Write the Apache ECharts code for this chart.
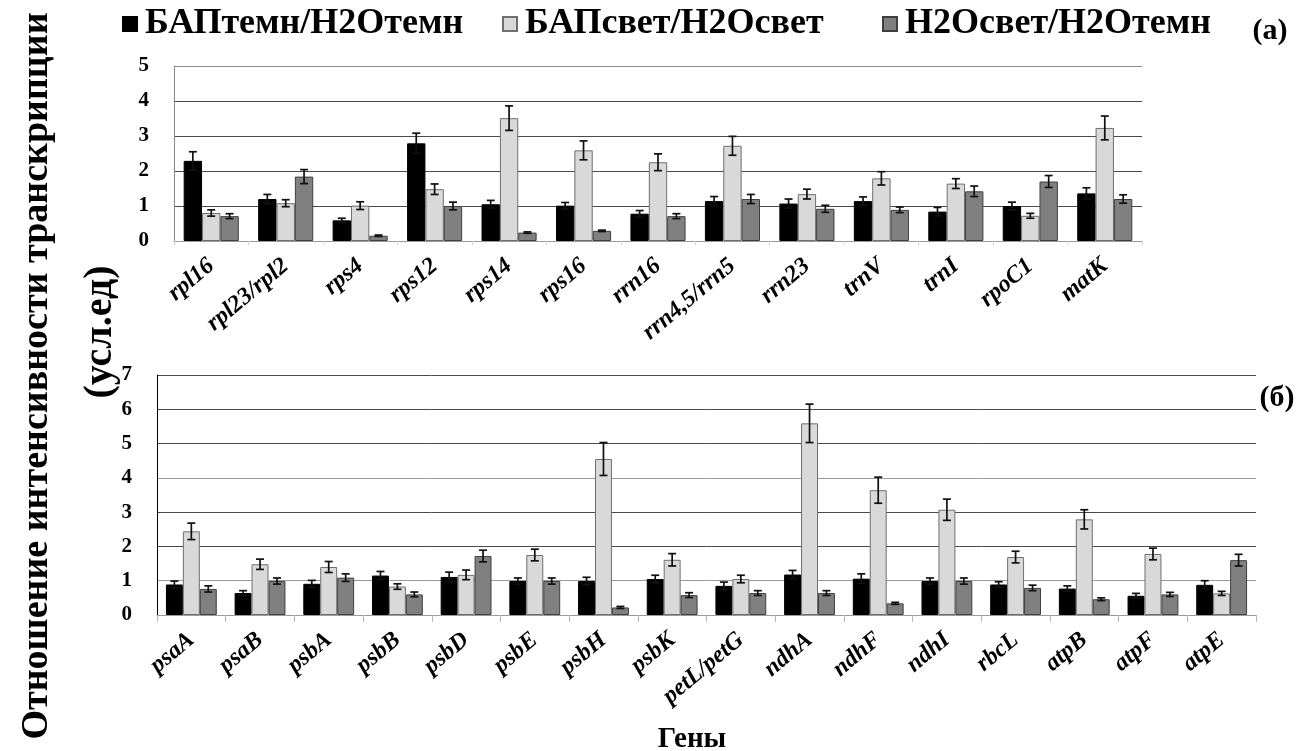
<!DOCTYPE html>
<html>
<head>
<meta charset="utf-8">
<script src="https://cdn.jsdelivr.net/npm/echarts@6/dist/echarts.min.js"></script>
<style>
html,body{margin:0;padding:0;background:#fff;}
#c{width:1301px;height:751px;}
</style>
</head>
<body>
<div id="c"></div>
<script>
// ---------- DATA ----------
const seriesNames = ['БАПтемн/H2Oтемн', 'БАПсвет/H2Oсвет', 'H2Oсвет/H2Oтемн'];

const catsA = ['rpl16','rpl23/rpl2','rps4','rps12','rps14','rps16','rrn16','rrn4,5/rrn5','rrn23','trnV','trnI','rpoC1','matK'];
const darkA  = [2.29, 1.20, 0.59, 2.79, 1.05, 1.01, 0.78, 1.14, 1.07, 1.14, 0.84, 1.00, 1.36];
const errDarkA = [0.26, 0.13, 0.06, 0.29, 0.11, 0.09, 0.09, 0.13, 0.13, 0.12, 0.12, 0.11, 0.16];
const lightA = [0.80, 1.08, 1.01, 1.48, 3.51, 2.59, 2.25, 2.72, 1.34, 1.79, 1.64, 0.72, 3.23];
const errLightA = [0.09, 0.10, 0.11, 0.15, 0.35, 0.27, 0.24, 0.27, 0.14, 0.19, 0.14, 0.07, 0.34];
const grayA  = [0.71, 1.84, 0.15, 1.00, 0.24, 0.29, 0.71, 1.20, 0.92, 0.89, 1.42, 1.70, 1.20];
const errGrayA = [0.07, 0.20, 0.02, 0.11, 0.02, 0.02, 0.07, 0.13, 0.10, 0.08, 0.15, 0.17, 0.12];

const catsB = ['psaA','psaB','psbA','psbB','psbD','psbE','psbH','psbK','petL/petG','ndhA','ndhF','ndhI','rbcL','atpB','atpF','atpE'];
const darkB  = [0.89, 0.64, 0.91, 1.15, 1.11, 0.99, 0.99, 1.05, 0.85, 1.18, 1.06, 0.99, 0.89, 0.77, 0.56, 0.88];
const errDarkB = [0.10, 0.07, 0.10, 0.12, 0.14, 0.09, 0.11, 0.11, 0.11, 0.12, 0.14, 0.09, 0.08, 0.08, 0.07, 0.12];
const lightB = [2.44, 1.48, 1.40, 0.83, 1.17, 1.75, 4.55, 1.61, 1.05, 5.59, 3.64, 3.07, 1.69, 2.79, 1.78, 0.63];
const errLightB = [0.24, 0.15, 0.16, 0.08, 0.14, 0.17, 0.48, 0.18, 0.11, 0.56, 0.38, 0.31, 0.17, 0.28, 0.17, 0.06];
const grayB  = [0.76, 0.99, 1.09, 0.60, 1.72, 0.99, 0.22, 0.58, 0.64, 0.64, 0.34, 0.99, 0.79, 0.46, 0.60, 1.60];
const errGrayB = [0.09, 0.09, 0.11, 0.07, 0.17, 0.09, 0.03, 0.07, 0.07, 0.07, 0.03, 0.09, 0.08, 0.04, 0.06, 0.17];

const yTicksA = {min: 0, max: 5, interval: 1};
const yTicksB = {min: 0, max: 7, interval: 1};

// ---------- STYLE ----------
const FONT = "Liberation Serif, Times New Roman, serif";
const fills = ['#000000', '#d9d9d9', '#808080'];
const borders = ['#000000', '#6f6f6f', '#3f3f3f'];
const CAT_GAP = 0.26;

const chart = echarts.init(document.getElementById('c'), null, {renderer: 'canvas'});

function barSeries(k, vals, gi) {
  return {
    name: seriesNames[k], type: 'bar', xAxisIndex: gi, yAxisIndex: gi,
    data: vals, barGap: '0%', barCategoryGap: (CAT_GAP * 100) + '%',
    itemStyle: {color: fills[k], borderColor: borders[k], borderWidth: 1},
    emphasis: {disabled: true}, z: 2
  };
}
function errSeries(k, vals, errs, gi) {
  return {
    type: 'custom', xAxisIndex: gi, yAxisIndex: gi, z: 5, silent: true,
    data: vals.map((v, i) => [i, v - errs[i], v + errs[i]]),
    encode: {x: 0, y: [1, 2]},
    renderItem: function (params, api) {
      const i = api.value(0);
      const lo = api.coord([i, api.value(1)]);
      const hi = api.coord([i, api.value(2)]);
      const cw = api.size([1, 0])[0];
      const bw = cw * (1 - CAT_GAP) / 3;
      const x = lo[0] + (k - 1) * bw;
      const c = 4;
      const st = {stroke: '#111', lineWidth: 1.7};
      return {type: 'group', children: [
        {type: 'line', shape: {x1: x, y1: lo[1], x2: x, y2: hi[1]}, style: st},
        {type: 'line', shape: {x1: x - c, y1: lo[1], x2: x + c, y2: lo[1]}, style: st},
        {type: 'line', shape: {x1: x - c, y1: hi[1], x2: x + c, y2: hi[1]}, style: st}
      ]};
    }
  };
}

const xLabel = {
  interval: 0, rotate: 40, color: '#000', fontFamily: FONT, fontSize: 24,
  fontWeight: 'bold', fontStyle: 'italic', margin: 22, padding: [37, 0, 0, 0]
};
const yLabel = {color: '#000', fontFamily: FONT, fontSize: 21, fontWeight: 'bold', margin: 25};

function oneLegend(k, left) {
  return {
    data: [seriesNames[k]], left: left, top: 6, padding: 0, itemWidth: 14, itemHeight: 14,
    textStyle: {fontFamily: FONT, fontSize: 36, fontWeight: 'bold', color: '#000', padding: [0, 0, 0, 3]},
    icon: 'rect', selectedMode: false
  };
}

const option = {
  animation: false,
  backgroundColor: '#fff',
  legend: [oneLegend(0, 122), oneLegend(1, 502), oneLegend(2, 882)],
  grid: [
    {left: 174, right: 159, top: 66, height: 175, containLabel: false},
    {left: 157, right: 45, top: 375, height: 240, containLabel: false}
  ],
  xAxis: [
    {type: 'category', gridIndex: 0, data: catsA,
     axisLine: {lineStyle: {color: '#9a9a9a', width: 1}},
     axisTick: {show: true, alignWithLabel: false, length: 4, lineStyle: {color: '#d5d5d5'}},
     axisLabel: xLabel},
    {type: 'category', gridIndex: 1, data: catsB,
     axisLine: {lineStyle: {color: '#9a9a9a', width: 1}},
     axisTick: {show: true, alignWithLabel: false, length: 7, lineStyle: {color: '#b5b5b5'}},
     axisLabel: xLabel}
  ],
  yAxis: [
    {type: 'value', gridIndex: 0, min: yTicksA.min, max: yTicksA.max, interval: yTicksA.interval,
     axisLine: {show: true, lineStyle: {color: '#8a8a8a'}}, axisTick: {show: false},
     splitLine: {lineStyle: {color: ['#9a9a9a', '#4a4a4a', '#4a4a4a', '#4a4a4a', '#4a4a4a', '#8c8c8c'], width: 1}},
     axisLabel: yLabel},
    {type: 'value', gridIndex: 1, min: yTicksB.min, max: yTicksB.max, interval: yTicksB.interval,
     axisLine: {show: true, lineStyle: {color: '#000'}}, axisTick: {show: false},
     splitLine: {lineStyle: {color: ['#9a9a9a', '#9a9a9a', '#4a4a4a', '#4a4a4a', '#9a9a9a', '#4a4a4a', '#4a4a4a', '#4a4a4a'], width: 1}},
     axisLabel: yLabel}
  ],
  series: [
    barSeries(0, darkA, 0), barSeries(1, lightA, 0), barSeries(2, grayA, 0),
    errSeries(0, darkA, errDarkA, 0), errSeries(1, lightA, errLightA, 0), errSeries(2, grayA, errGrayA, 0),
    barSeries(0, darkB, 1), barSeries(1, lightB, 1), barSeries(2, grayB, 1),
    errSeries(0, darkB, errDarkB, 1), errSeries(1, lightB, errLightB, 1), errSeries(2, grayB, errGrayB, 1)
  ],
  graphic: [
    {type: 'text', x: 37, y: 376, rotation: Math.PI / 2,
     style: {text: 'Отношение интенсивности транскрипции', fontFamily: FONT, fontSize: 38, fontWeight: 'bold',
             fill: '#000', align: 'center', verticalAlign: 'middle'}},
    {type: 'text', x: 101, y: 332, rotation: Math.PI / 2,
     style: {text: '(усл.ед)', fontFamily: FONT, fontSize: 40, fontWeight: 'bold',
             fill: '#000', align: 'center', verticalAlign: 'middle'}},
    {type: 'text', x: 1270, y: 31,
     style: {text: '(a)', fontFamily: FONT, fontSize: 30, fontWeight: 'bold', fill: '#000',
             align: 'center', verticalAlign: 'middle'}},
    {type: 'text', x: 1277, y: 398,
     style: {text: '(б)', fontFamily: FONT, fontSize: 30, fontWeight: 'bold', fill: '#000',
             align: 'center', verticalAlign: 'middle'}},
    {type: 'text', x: 692, y: 740,
     style: {text: 'Гены', fontFamily: FONT, fontSize: 29, fontWeight: 'bold', fill: '#000',
             align: 'center', verticalAlign: 'middle'}}
  ]
};
chart.setOption(option);
</script>
</body>
</html>
